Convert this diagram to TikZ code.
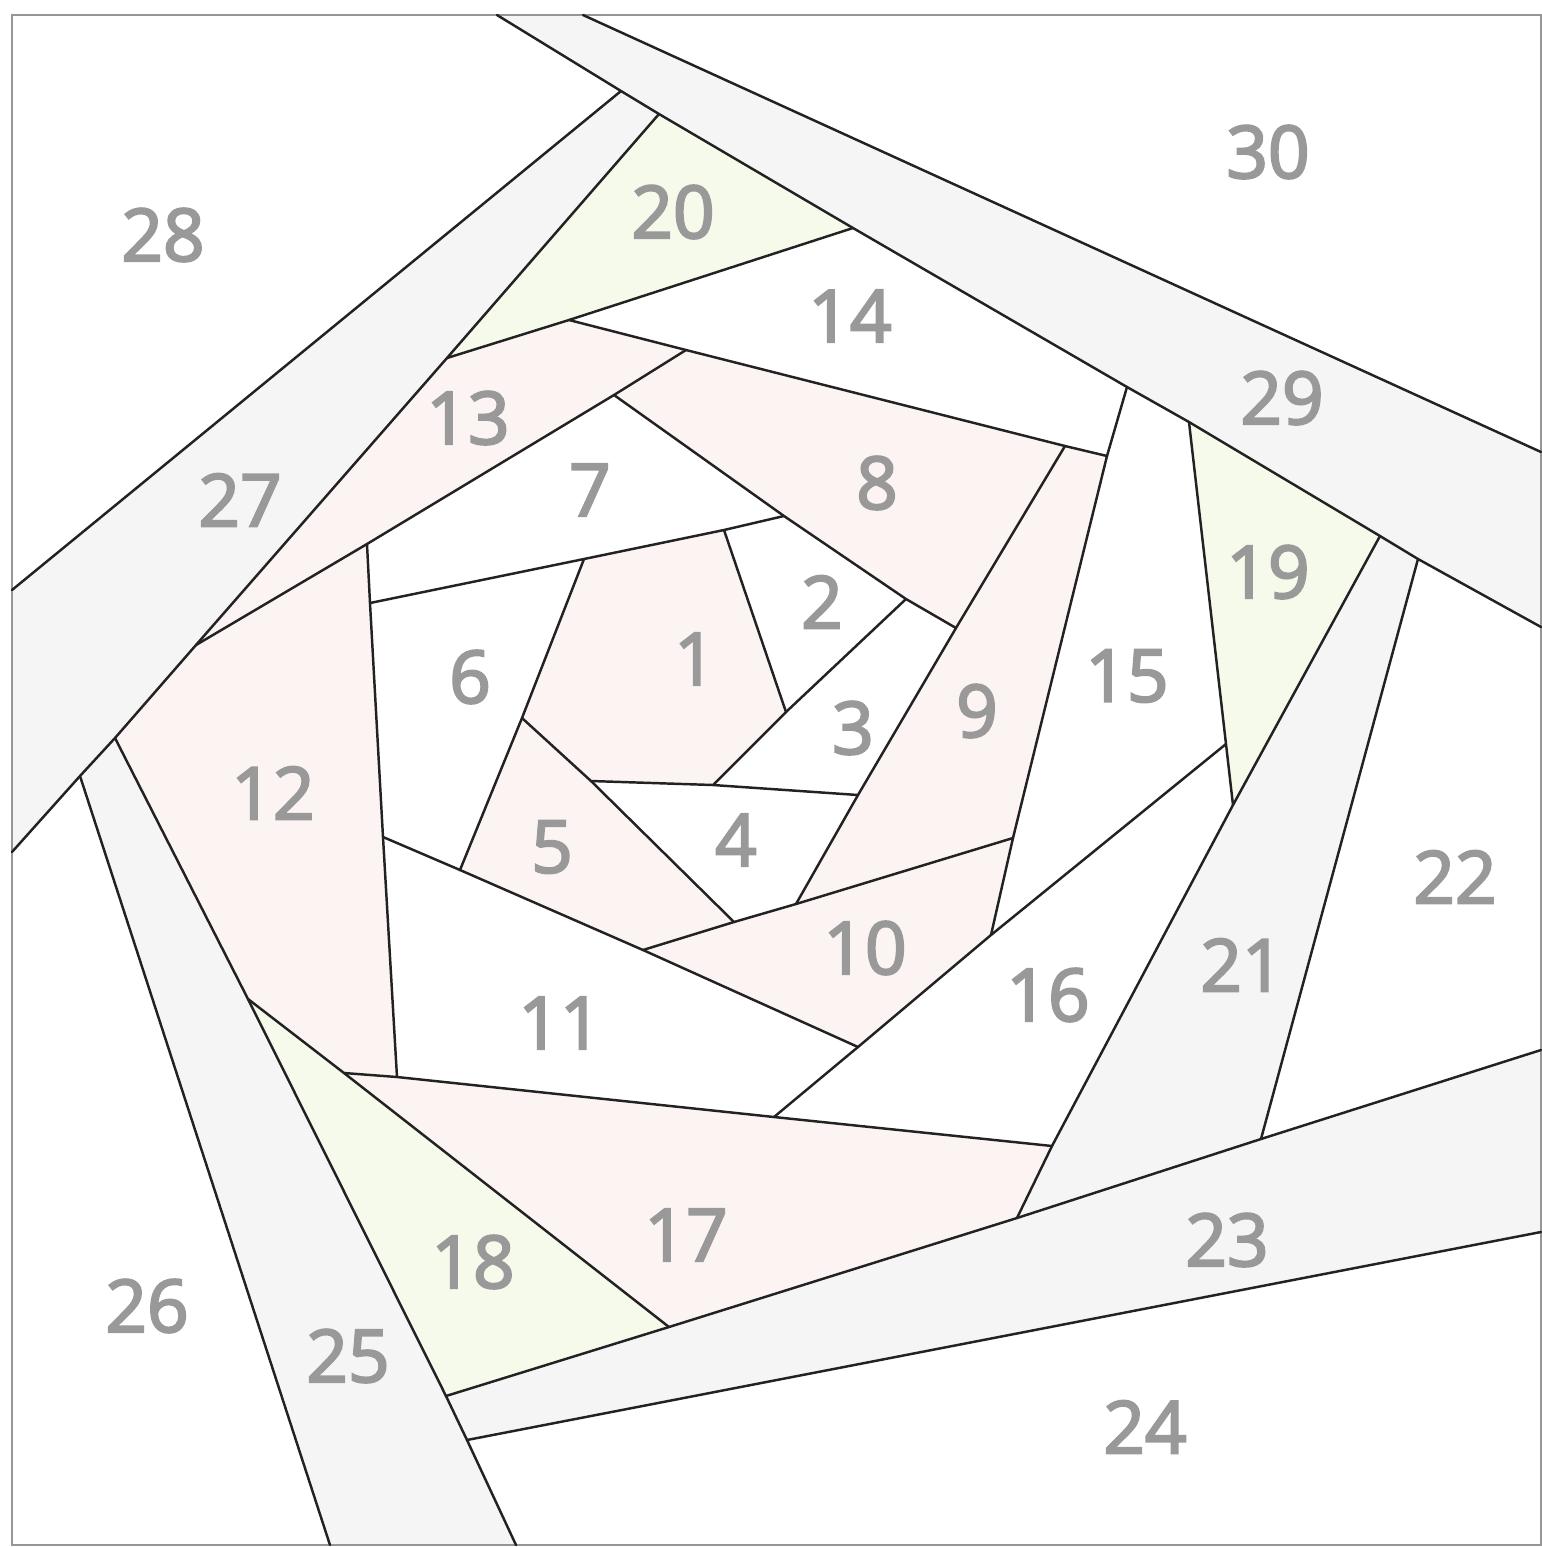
\documentclass[tikz,border=0pt]{standalone}
\usepackage{fontspec}
\setmainfont{Open Sans}
\newfontfamily\labfont{Open Sans}[FakeBold=3]
\definecolor{pinkf}{RGB}{252,244,242}
\definecolor{greenf}{RGB}{245,250,235}
\definecolor{grayf}{RGB}{245,245,245}
\definecolor{seam}{RGB}{34,34,34}
\definecolor{labgray}{RGB}{153,153,153}
\definecolor{framegray}{RGB}{150,150,150}
\tikzset{
  seamline/.style={draw=seam,line width=0.7pt,line join=round,line cap=round},
  lab/.style={text=labgray,inner sep=0pt,font=\labfont\fontsize{20.7}{22}\selectfont},
  pinkpiece/.style={fill=pinkf},
  greenpiece/.style={fill=greenf},
  graypiece/.style={fill=grayf}
}
\begin{document}
\begin{tikzpicture}[x=0.01cm,y=-0.01cm]
\useasboundingbox (0,0) rectangle (1542,1547);
\fill[white] (0,0) rectangle (1542,1547);
% vertices
\coordinate (T1) at (497,15);
\coordinate (T2) at (583,15);
\coordinate (A) at (621,91);
\coordinate (B) at (659,114);
\coordinate (C) at (853,228);
\coordinate (D) at (1127,387);
\coordinate (E) at (1189,422);
\coordinate (F) at (1380,536);
\coordinate (G) at (1418,559);
\coordinate (H) at (1541,627);
\coordinate (I) at (1541,452);
\coordinate (L1) at (12,590);
\coordinate (J) at (447,358);
\coordinate (K) at (196,645);
\coordinate (Lb) at (115,738);
\coordinate (Lc) at (80,776);
\coordinate (L2) at (12,852);
\coordinate (N) at (569,320);
\coordinate (Q) at (686,350);
\coordinate (R) at (614,395);
\coordinate (M) at (367,544);
\coordinate (W) at (1065,446);
\coordinate (P) at (1107,456);
\coordinate (S) at (784,516);
\coordinate (U) at (906,599);
\coordinate (V) at (956,628);
\coordinate (c1) at (584,559);
\coordinate (c2) at (724,530);
\coordinate (c3) at (786,712);
\coordinate (c4) at (713,785);
\coordinate (c5) at (591,781);
\coordinate (c6) at (522,718);
\coordinate (c7) at (858,795);
\coordinate (c8) at (796,904);
\coordinate (c9) at (734,922);
\coordinate (c10) at (643,950);
\coordinate (c11) at (1013,838);
\coordinate (c12) at (991,935);
\coordinate (Z6) at (370,603);
\coordinate (Z) at (383,837);
\coordinate (Y) at (460,870);
\coordinate (X1) at (858,1047);
\coordinate (X2) at (774,1117);
\coordinate (c13) at (1226,744);
\coordinate (c14) at (1233,805);
\coordinate (c15) at (1052,1146);
\coordinate (c16) at (1017,1218);
\coordinate (c17) at (1261,1139);
\coordinate (c18) at (669,1327);
\coordinate (c19) at (446,1396);
\coordinate (c20) at (467,1440);
\coordinate (c21) at (344,1073);
\coordinate (c22) at (397,1077);
\coordinate (c24) at (248,999);
\coordinate (R23) at (1541,1050);
\coordinate (R24) at (1541,1232);
\coordinate (B25o) at (330,1545);
\coordinate (B25i) at (516,1545);
% fills: strips
\fill[graypiece] (T1)--(T2)--(I)--(H)--(G)--(F)--(E)--(D)--(C)--(B)--(A)--cycle;
\fill[graypiece] (L1)--(A)--(B)--(J)--(K)--(Lb)--(Lc)--(L2)--cycle;
\fill[graypiece] (Lb)--(Lc)--(B25o)--(B25i)--(c20)--(c19)--(c24)--cycle;
\fill[graypiece] (c19)--(c18)--(c16)--(c17)--(R23)--(R24)--(c20)--cycle;
\fill[graypiece] (F)--(G)--(c17)--(c16)--(c15)--(c14)--cycle;
% pink pieces
\fill[pinkpiece] (c1)--(c2)--(c3)--(c4)--(c5)--(c6)--cycle;
\fill[pinkpiece] (c6)--(c5)--(c9)--(c10)--(Y)--cycle;
\fill[pinkpiece] (Q)--(W)--(V)--(U)--(S)--(R)--cycle;
\fill[pinkpiece] (W)--(P)--(c11)--(c8)--(c7)--(V)--cycle;
\fill[pinkpiece] (c10)--(c9)--(c8)--(c11)--(c12)--(X1)--cycle;
\fill[pinkpiece] (K)--(M)--(Z6)--(Z)--(c22)--(c21)--(c24)--(Lb)--cycle;
\fill[pinkpiece] (J)--(N)--(Q)--(R)--(M)--(K)--cycle;
\fill[pinkpiece] (c21)--(c22)--(X2)--(c15)--(c16)--(c18)--cycle;
% green pieces
\fill[greenpiece] (c24)--(c21)--(c18)--(c19)--cycle;
\fill[greenpiece] (E)--(F)--(c14)--(c13)--cycle;
\fill[greenpiece] (B)--(C)--(N)--(J)--cycle;
% frame
\draw[framegray,line width=0.8pt] (12,15) rectangle (1541,1545);
% seams
\draw[seamline] (T1)--(A)--(B)--(C)--(D)--(E)--(F)--(G)--(H);
\draw[seamline] (T2)--(I);
\draw[seamline] (A)--(L1);
\draw[seamline] (B)--(J)--(K)--(Lb)--(Lc)--(L2);
\draw[seamline] (J)--(N)--(C);
\draw[seamline] (N)--(Q)--(W)--(P);
\draw[seamline] (D)--(P)--(c11)--(c12);
\draw[seamline] (Q)--(R)--(M)--(K);
\draw[seamline] (R)--(S)--(U)--(V);
\draw[seamline] (W)--(V)--(c7)--(c8);
\draw[seamline] (Z6)--(c1)--(c2)--(S);
\draw[seamline] (M)--(Z6)--(Z)--(c22);
\draw[seamline] (c2)--(c3);
\draw[seamline] (U)--(c3)--(c4);
\draw[seamline] (c5)--(c4)--(c7);
\draw[seamline] (c1)--(c6)--(Y);
\draw[seamline] (c6)--(c5)--(c9);
\draw[seamline] (c10)--(c9)--(c8)--(c11);
\draw[seamline] (Z)--(Y)--(c10)--(X1);
\draw[seamline] (c12)--(X1)--(X2);
\draw[seamline] (c12)--(c13);
\draw[seamline] (E)--(c13)--(c14);
\draw[seamline] (F)--(c14)--(c15)--(c16);
\draw[seamline] (G)--(c17);
\draw[seamline] (c21)--(c22)--(X2)--(c15);
\draw[seamline] (c24)--(c21)--(c18);
\draw[seamline] (c19)--(c18)--(c16)--(c17)--(R23);
\draw[seamline] (c20)--(R24);
\draw[seamline] (Lb)--(c24)--(c19)--(c20)--(B25i);
\draw[seamline] (Lc)--(B25o);
% labels
\node[lab] (n1) at (695,659) {1};
\node[lab] (n2) at (822,602) {2};
\node[lab] (n3) at (853,728) {3};
\node[lab] (n4) at (736,840) {4};
\node[lab] (n5) at (552,847) {5};
\node[lab] (n6) at (470,677) {6};
\node[lab] (n7) at (590,490) {7};
\node[lab] (n8) at (877,483) {8};
\node[lab] (n9) at (977,711) {9};
\node[lab] (n10) at (865,948) {10};
\node[lab] (n11) at (560,1023) {11};
\node[lab] (n12) at (273,793) {12};
\node[lab] (n13) at (468,418) {13};
\node[lab] (n14) at (850,316) {14};
\node[lab] (n15) at (1127,676) {15};
\node[lab] (n16) at (1048,995) {16};
\node[lab] (n17) at (686,1235) {17};
\node[lab] (n18) at (473,1262) {18};
\node[lab] (n19) at (1268,572) {19};
\node[lab] (n20) at (673,212) {20};
\node[lab] (n21) at (1242,965) {21};
\node[lab] (n22) at (1455,877) {22};
\node[lab] (n23) at (1227,1240) {23};
\node[lab] (n24) at (1145,1427) {24};
\node[lab] (n25) at (348,1356) {25};
\node[lab] (n26) at (147,1306) {26};
\node[lab] (n27) at (240,500) {27};
\node[lab] (n28) at (163,235) {28};
\node[lab] (n29) at (1282,398) {29};
\node[lab] (n30) at (1268,152) {30};
\end{tikzpicture}
\end{document}
